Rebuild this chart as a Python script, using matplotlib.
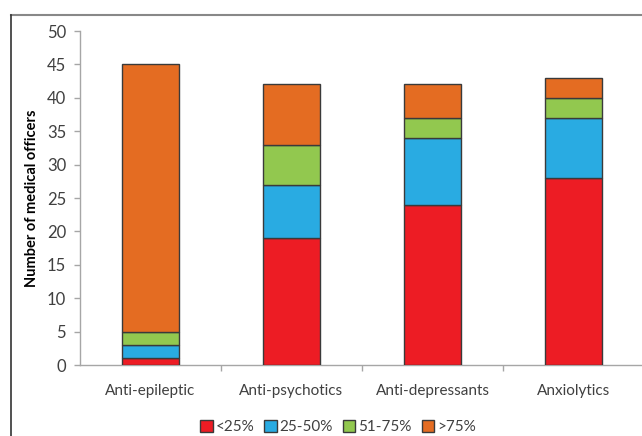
import matplotlib
matplotlib.use('Agg')
import matplotlib.pyplot as plt
from matplotlib.lines import Line2D
import numpy as np

# Drug classes and number of officers in each prescribing band
categories = ['Anti-epileptic', 'Anti-psychotics', 'Anti-depressants', 'Anxiolytics']
bands = ['<25%', '25-50%', '51-75%', '>75%']
lt25 = [1, 19, 24, 28]
p25_50 = [2, 8, 10, 9]
p51_75 = [2, 6, 3, 3]
gt75 = [40, 9, 5, 3]

colors = ['#ED1C24', '#29ABE2', '#92C84F', '#E46C22']
series = [lt25, p25_50, p51_75, gt75]

plt.rcParams['font.family'] = ['Lato', 'DejaVu Sans']

fig = plt.figure(figsize=(6.42, 4.36), dpi=100)
W, H = 642, 436
ax = fig.add_axes([80 / W, 1 - 365 / H, (642 - 80) / W, (365 - 31) / H])

x = np.arange(len(categories))
bottom = np.zeros(len(categories))
for vals, col, lab in zip(series, colors, bands):
    ax.bar(x, vals, 0.40, bottom=bottom, color=col, edgecolor='#3a3a3a',
           linewidth=1.0, label=lab, zorder=3)
    bottom += np.array(vals)

ax.set_ylim(0, 50)
ax.set_yticks(range(0, 51, 5))
ax.set_xlim(-0.5, 3.486)
ax.set_xticks(x)
ax.set_xticklabels(categories)
ax.set_xticks([0.5, 1.5, 2.5], minor=True)

for s in ['top', 'right']:
    ax.spines[s].set_visible(False)
for s in ['left', 'bottom']:
    ax.spines[s].set_color('#a6a6a6')
    ax.spines[s].set_linewidth(1.0)

ax.tick_params(axis='y', colors='#a6a6a6', labelcolor='#404040', labelsize=12,
               length=4, width=1, pad=6)
ax.tick_params(axis='x', which='major', length=0, labelcolor='#404040',
               labelsize=11, pad=14)
ax.tick_params(axis='x', which='minor', length=4, width=1, colors='#a6a6a6')

ax.set_ylabel('Number of medical officers', fontweight='bold', fontsize=10.5)
ax.yaxis.set_label_coords(-0.073, 0.5)

leg = fig.legend(loc='center', bbox_to_anchor=(338 / W, 1 - 427 / H), ncol=4,
                 frameon=False, fontsize=11, handlelength=0.8, handleheight=0.8,
                 handletextpad=0.2, columnspacing=0.65, labelcolor='#404040')
for h in leg.legend_handles:
    h.set_edgecolor('#3a3a3a')

# outer frame around the chart
fig.add_artist(Line2D([11 / W, 1.0], [1 - 15 / H, 1 - 15 / H], color='#888888', lw=1.5))
fig.add_artist(Line2D([11 / W, 11 / W], [0, 1 - 15 / H], color='#333333', lw=1.2))

fig.savefig('out.png', dpi=100)
